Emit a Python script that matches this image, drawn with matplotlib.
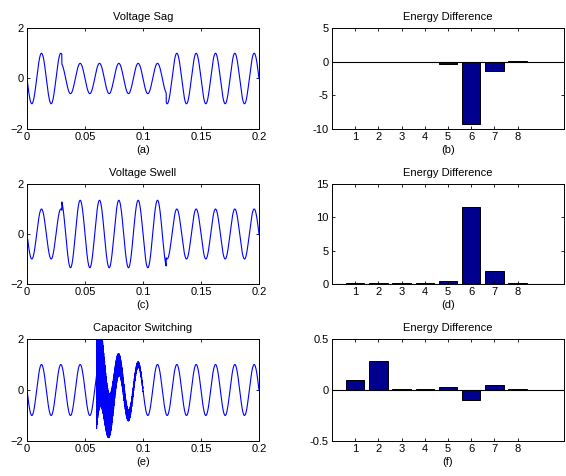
import numpy as np
import matplotlib
matplotlib.use("Agg")
import matplotlib.pyplot as plt

plt.rcParams['font.family'] = ['Liberation Sans', 'DejaVu Sans']
plt.rcParams['font.size'] = 8

# waveform settings
t_span = [0.0, 0.2]
f_fund = 60.0
event_edges = [0.03, 0.12]
sag_levels = [1.0, 0.6, 1.0]
swell_levels = [1.0, 1.35, 1.0]
cap_window = [0.06, 0.1]
cap_amp = 2.1
cap_tau = 0.012
cap_freq = 3000.0

# energy difference per level
levels = [1, 2, 3, 4, 5, 6, 7, 8]
sag_energy = [0.01, 0.01, 0.01, 0.01, -0.3, -9.3, -1.4, 0.1]
swell_energy = [0.15, 0.15, 0.15, 0.15, 0.5, 11.5, 2.0, 0.15]
cap_energy = [0.1, 0.28, 0.01, 0.01, 0.026, -0.1, 0.053, 0.01]

wave_titles = ['Voltage Sag', 'Voltage Swell', 'Capacitor Switching']
bar_title = 'Energy Difference'
panel_tags = ['(a)', '(b)', '(c)', '(d)', '(e)', '(f)']
bar_ylims = [(-10, 5), (0, 15), (-0.5, 0.5)]
bar_yticks = [[-10, -5, 0, 5], [0, 5, 10, 15], [-0.5, 0, 0.5]]


def step_envelope(t, edges, lv):
    env = np.full_like(t, lv[0])
    env[(t >= edges[0]) & (t < edges[1])] = lv[1]
    env[t >= edges[1]] = lv[2]
    return env


t = np.linspace(t_span[0], t_span[1], 12001)
base = -np.sin(2 * np.pi * f_fund * t)
sag = base * step_envelope(t, event_edges, sag_levels)
swell = base * step_envelope(t, event_edges, swell_levels)
dt = np.clip(t - cap_window[0], 0, None)
ring = -cap_amp * np.exp(-dt / cap_tau) * np.cos(2 * np.pi * cap_freq * dt)
in_win = (t >= cap_window[0]) & (t < cap_window[1])
cap = base + np.where(in_win, ring, 0.0)
waves = [sag, swell, cap]
energies = [sag_energy, swell_energy, cap_energy]

fig = plt.figure(figsize=(5.66, 4.76), dpi=100)
W, H = 566.0, 476.0
rows = [(28, 129), (184, 284), (339, 441)]
cols = [(27, 259), (332, 564)]


def style(ax):
    ax.tick_params(direction='in', length=2.0, width=0.6, top=True, right=True,
                   pad=2.5, labelsize=8)
    for s in ax.spines.values():
        s.set_linewidth(0.7)


for i, (top, bot) in enumerate(rows):
    # left: waveform
    l, r = cols[0]
    ax = fig.add_axes([l / W, 1 - bot / H, (r - l) / W, (bot - top) / H])
    ax.plot(t, waves[i], color='#0000ff', lw=0.8)
    ax.set_xlim(0, 0.2)
    ax.set_ylim(-2, 2)
    ax.set_xticks([0, 0.05, 0.1, 0.15, 0.2])
    ax.set_xticklabels(['0', '0.05', '0.1', '0.15', '0.2'])
    ax.set_yticks([-2, 0, 2])
    style(ax)
    ax.set_title(wave_titles[i], fontsize=8, pad=6)
    ax.set_xlabel(panel_tags[2 * i], fontsize=8, labelpad=2)

    # right: energy bars
    l, r = cols[1]
    ax = fig.add_axes([l / W, 1 - bot / H, (r - l) / W, (bot - top) / H])
    ax.bar(levels, energies[i], width=0.8, color='#00008f', edgecolor='black', lw=0.7)
    ax.axhline(0, color='black', lw=0.8)
    ax.set_xlim(0, 10)
    ax.set_ylim(*bar_ylims[i])
    ax.set_xticks(levels)
    ax.set_yticks(bar_yticks[i])
    ax.set_yticklabels([('%g' % v) for v in bar_yticks[i]])
    style(ax)
    ax.set_title(bar_title, fontsize=8, pad=6)
    ax.set_xlabel(panel_tags[2 * i + 1], fontsize=8, labelpad=2)

plt.savefig('out.png', dpi=100)
